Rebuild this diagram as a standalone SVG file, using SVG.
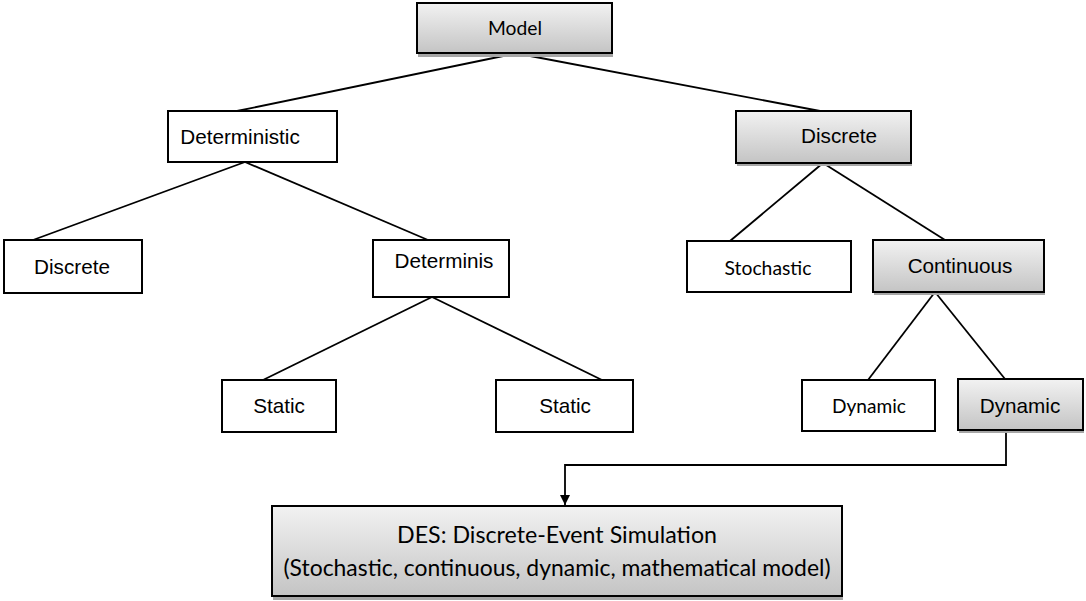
<svg xmlns="http://www.w3.org/2000/svg" width="1086" height="601" viewBox="0 0 1086 601">
<defs>
<linearGradient id="g" x1="0" y1="0" x2="0" y2="1">
<stop offset="0" stop-color="#f2f2f2"/>
<stop offset="1" stop-color="#c4c4c4"/>
</linearGradient>
<marker id="arr" markerWidth="12" markerHeight="12" refX="10" refY="5" orient="auto" markerUnits="userSpaceOnUse">
<path d="M0,0 L10,5 L0,10 Z" fill="#000"/>
</marker>
<style>
.w{fill:#fff;stroke:#000;stroke-width:2}
.gr{fill:url(#g);stroke:#000;stroke-width:2}
.sh{fill:#a6a6a6}
.a{font-family:"Liberation Sans",Arial,sans-serif;font-size:20.7px;fill:#000;text-anchor:middle}
.c{font-family:Lato,"Open Sans",sans-serif;font-size:19px;fill:#000;text-anchor:middle}
.d{font-family:Lato,"Open Sans",sans-serif;font-size:24px;fill:#000;text-anchor:middle}
.l{stroke:#000;stroke-width:1.8;fill:none}
</style>
</defs>
<g id="connectors">
<line class="l" x1="237" y1="111" x2="508" y2="55"/>
<line class="l" x1="525" y1="55" x2="820" y2="111"/>
<line class="l" x1="245" y1="162" x2="33" y2="240"/>
<line class="l" x1="245" y1="162" x2="428" y2="240"/>
<line class="l" x1="823" y1="163" x2="730" y2="241"/>
<line class="l" x1="823" y1="163" x2="945" y2="240"/>
<line class="l" x1="432" y1="297" x2="263" y2="380"/>
<line class="l" x1="432" y1="297" x2="602" y2="380"/>
<line class="l" x1="935" y1="292" x2="868" y2="380"/>
<line class="l" x1="935" y1="292" x2="1005" y2="379"/>
<polyline class="l" points="1006,430 1006,465 565,465 565,505" marker-end="url(#arr)"/>
</g>
<g id="model">
<rect class="sh" x="418" y="6" width="195" height="51"/>
<rect class="gr" x="417" y="3" width="195" height="50"/>
<text class="c" x="515" y="35" textLength="54" lengthAdjust="spacingAndGlyphs">Model</text>
</g>
<g id="deterministic">
<rect class="w" x="168" y="111" width="169" height="51"/>
<text class="a" x="240" y="144">Deterministic</text>
</g>
<g id="discrete-right">
<rect class="sh" x="737" y="114" width="175" height="52"/>
<rect class="gr" x="736" y="111" width="175" height="52"/>
<text class="a" x="839" y="143">Discrete</text>
</g>
<g id="discrete-left">
<rect class="w" x="4" y="240" width="138" height="53"/>
<text class="a" x="72" y="274">Discrete</text>
</g>
<g id="determinis">
<rect class="w" x="373" y="240" width="136" height="57"/>
<text class="a" x="444" y="268">Determinis</text>
</g>
<g id="stochastic">
<rect class="w" x="687" y="241" width="164" height="51"/>
<text class="c" x="768" y="275" textLength="87" lengthAdjust="spacingAndGlyphs">Stochastic</text>
</g>
<g id="continuous">
<rect class="sh" x="874" y="243" width="171" height="52"/>
<rect class="gr" x="873" y="240" width="171" height="52"/>
<text class="a" x="960" y="273">Continuous</text>
</g>
<g id="static-left">
<rect class="w" x="222" y="380" width="114" height="52"/>
<text class="a" x="279" y="413">Static</text>
</g>
<g id="static-right">
<rect class="w" x="496" y="380" width="137" height="52"/>
<text class="a" x="565" y="413">Static</text>
</g>
<g id="dynamic-white">
<rect class="w" x="802" y="380" width="133" height="51"/>
<text class="c" x="869" y="413" textLength="74" lengthAdjust="spacingAndGlyphs">Dynamic</text>
</g>
<g id="dynamic-gray">
<rect class="sh" x="959" y="382" width="125" height="51"/>
<rect class="gr" x="958" y="379" width="125" height="51"/>
<text class="a" x="1020" y="413">Dynamic</text>
</g>
<g id="des">
<rect class="sh" x="273" y="509" width="570" height="91"/>
<rect class="gr" x="272" y="506" width="570" height="90"/>
<text class="d" x="557" y="543" textLength="320" lengthAdjust="spacingAndGlyphs">DES: Discrete-Event Simulation</text>
<text class="d" x="557" y="576" textLength="547" lengthAdjust="spacingAndGlyphs">(Stochastic, continuous, dynamic, mathematical model)</text>
</g>
</svg>
